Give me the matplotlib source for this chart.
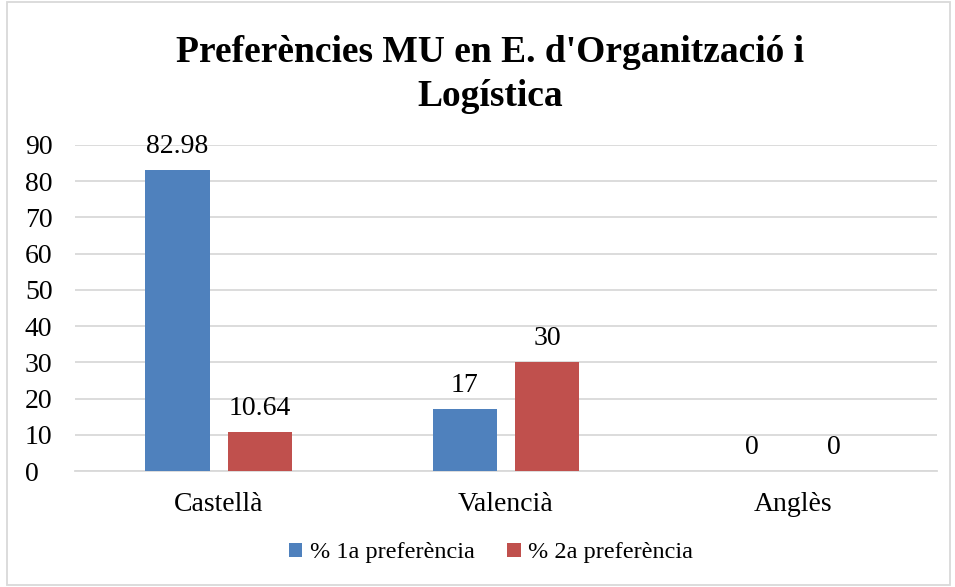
import matplotlib
matplotlib.use("Agg")
import matplotlib.pyplot as plt
from matplotlib.patches import Rectangle
import numpy as np

categories = ["Castellà", "Valencià", "Anglès"]
series_names = ["% 1a preferència", "% 2a preferència"]
values_1a = [82.98, 17, 0]
values_2a = [10.64, 30, 0]
labels_1a = ["82.98", "17", "0"]
labels_2a = ["10.64", "30", "0"]

plt.rcParams['font.family'] = ['Liberation Serif', 'DejaVu Serif']

fig = plt.figure(figsize=(9.55, 5.87), dpi=100)
ax = fig.add_axes([0.0785, 0.1976, 0.9025, 0.5554])

x = np.arange(len(categories))
w = 0.223
off = 0.143
c1 = "#4F81BD"
c2 = "#C0504D"
ax.bar(x - off, values_1a, w, color=c1, label=series_names[0], zorder=3)
ax.bar(x + off, values_2a, w, color=c2, label=series_names[1], zorder=3)

for xs, vals, labs in ((x - off, values_1a, labels_1a), (x + off, values_2a, labels_2a)):
    for xi, v, s in zip(xs, vals, labs):
        ax.annotate(s, (xi, v), xytext=(0, 12.5), textcoords='offset points',
                    ha='center', va='baseline', fontsize=20, color='#000000')

ax.set_xlim(-0.5, 2.5)
ax.set_ylim(0, 90)
ax.set_yticks(range(0, 91, 10))
ax.set_xticks(x)
ax.set_xticklabels(categories)
ax.tick_params(axis='both', length=0, labelsize=20, colors='#000000')
ax.tick_params(axis='y', pad=36)
ax.tick_params(axis='x', pad=15)
ax.grid(axis='y', color='#D9D9D9', linewidth=1.3, zorder=0)
for s in ['top', 'right', 'left']:
    ax.spines[s].set_visible(False)
ax.spines['bottom'].set_color('#D9D9D9')
ax.spines['bottom'].set_linewidth(1.3)
for lbl in ax.get_yticklabels():
    lbl.set_horizontalalignment('left')

fig.text(0.513, 0.873, "Preferències MU en E. d'Organització i\nLogística",
         ha='center', va='center', fontsize=27, fontweight='bold', linespacing=1.3)

fig.legend(loc='center', bbox_to_anchor=(0.514, 0.058), ncol=2, frameon=False,
           fontsize=17.5, handlelength=0.55, handleheight=0.55, handletextpad=0.3,
           columnspacing=1.35)

fig.add_artist(Rectangle((0.007, 0.003), 0.988, 0.994, transform=fig.transFigure,
                         fill=False, edgecolor='#D9D9D9', linewidth=1.3))

fig.savefig("out.png", dpi=100)
